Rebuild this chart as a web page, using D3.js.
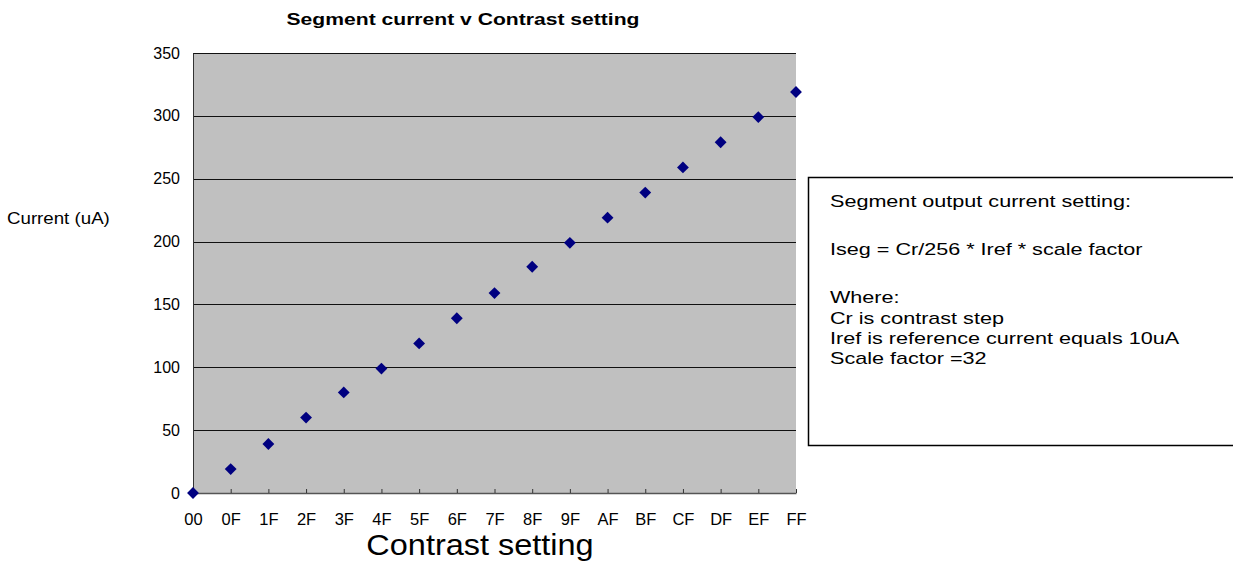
<!DOCTYPE html>
<html>
<head>
<meta charset="utf-8">
<script src="https://cdn.jsdelivr.net/npm/d3@7"></script>
<style>
  body { margin: 0; background: #fff; }
  text { font-family: Arial, "Liberation Sans", sans-serif; }
</style>
</head>
<body>
<div id="chart"></div>
<script>
// data
var settings = ["00", "0F", "1F", "2F", "3F", "4F", "5F", "6F", "7F", "8F", "9F", "AF", "BF", "CF", "DF", "EF", "FF"];
var currents = [0, 19, 39, 60, 80, 99, 119, 139, 159, 180, 199, 219, 239, 259, 279, 299, 319];
var yTicks = [0, 50, 100, 150, 200, 250, 300, 350];
var noteLines = [
    "Segment output current setting:",
    "",
    "Iseg = Cr/256 * Iref * scale factor",
    "",
    "Where:",
    "Cr is contrast step",
    "Iref is reference current equals 10uA",
    "Scale factor =32"
];

var svgWidth = 1233;
var svgHeight = 562;

var plot = { left: 193, right: 796, top: 53, bottom: 493 };

var svg = d3.select("#chart")
    .append("svg")
    .attr("width", svgWidth)
    .attr("height", svgHeight);

var xScale = d3.scalePoint()
    .domain(settings)
    .range([plot.left, plot.right]);

var yScale = d3.scaleLinear()
    .domain([0, 350])
    .range([plot.bottom, plot.top]);

// the text in the original is a bit wider than its height suggests
function stretchedText(parent, x, y, sx, size, str) {
    return parent.append("text")
        .attr("transform", `translate(${x}, ${y}) scale(${sx}, 1)`)
        .attr("font-size", size + "px")
        .text(str);
}

// plot background
svg.append("rect")
    .attr("x", plot.left)
    .attr("y", plot.top)
    .attr("width", plot.right - plot.left)
    .attr("height", plot.bottom - plot.top)
    .attr("fill", "#c0c0c0");

// gridlines
svg.append("g")
    .selectAll("line")
    .data(yTicks.filter(d => d > 0))
    .enter()
    .append("line")
    .attr("x1", plot.left)
    .attr("x2", plot.right)
    .attr("y1", d => Math.round(yScale(d)) + 0.5)
    .attr("y2", d => Math.round(yScale(d)) + 0.5)
    .attr("stroke", "#111")
    .attr("stroke-width", 1);

// y axis
var leftAxis = d3.axisLeft(yScale)
    .tickValues(yTicks)
    .tickSize(0)
    .tickPadding(13);

var yaxis = svg.append("g")
    .attr("transform", `translate(${plot.left}, 0)`)
    .call(leftAxis);
yaxis.select(".domain").attr("stroke", "#333");
yaxis.selectAll("text")
    .attr("font-size", "16px")
    .attr("fill", "#000")
    .attr("font-family", "Arial, 'Liberation Sans', sans-serif");

// x axis, ticks point up into the plot
var bottomAxis = d3.axisBottom(xScale)
    .tickSizeInner(-4)
    .tickSizeOuter(0)
    .tickPadding(20);

var xaxis = svg.append("g")
    .attr("transform", `translate(0, ${plot.bottom})`)
    .call(bottomAxis);
xaxis.select(".domain").attr("stroke", "#555").attr("stroke-width", 1.5);
xaxis.selectAll(".tick line").attr("stroke", "#333");
xaxis.selectAll("text")
    .attr("font-size", "16.5px")
    .attr("fill", "#000")
    .attr("font-family", "Arial, 'Liberation Sans', sans-serif");

// markers
var diamond = d3.symbol().type(d3.symbolSquare).size(70);
svg.append("g")
    .selectAll("path")
    .data(currents)
    .enter()
    .append("path")
    .attr("d", diamond)
    .attr("transform", (d, i) => `translate(${xScale(settings[i])}, ${yScale(d)}) rotate(45)`)
    .attr("fill", "#000080");

// title
stretchedText(svg, 463, 25, 1.32, 16, "Segment current v Contrast setting")
    .attr("text-anchor", "middle")
    .attr("font-weight", "bold");

// axis titles
stretchedText(svg, 7, 224, 1.1, 17, "Current (uA)");

stretchedText(svg, 480, 555, 1.12, 29, "Contrast setting")
    .attr("text-anchor", "middle");

// note box
var note = svg.append("g");
note.append("rect")
    .attr("x", 808.5)
    .attr("y", 177.5)
    .attr("width", 440)
    .attr("height", 268)
    .attr("fill", "#fff")
    .attr("stroke", "#000")
    .attr("stroke-width", 1.5);

var lineY = 207;
noteLines.forEach(function(str) {
    if (str === "") {
        lineY += 28;
        return;
    }
    stretchedText(note, 830, lineY, 1.27, 17, str);
    lineY += 20.2;
});
</script>
</body>
</html>
